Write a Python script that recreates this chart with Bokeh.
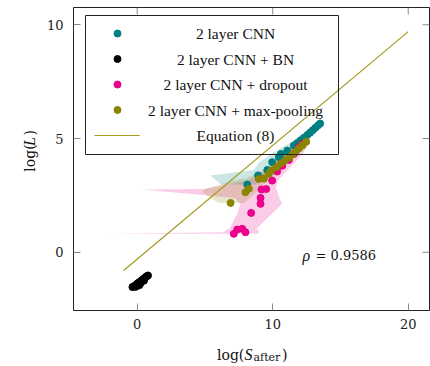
import numpy as np
from math import pi
from bokeh.plotting import figure
from bokeh.layouts import row, column
from bokeh.models import Range1d, LinearAxis, FixedTicker, Label, BoxAnnotation
from bokeh.embed import file_html
from bokeh.resources import INLINE

# ---------------- data ----------------
# 2 layer CNN
cnn_x = [8.12, 8.92, 9.60, 9.96, 10.45, 10.60, 11.07, 11.56, 11.80, 12.05, 12.30, 12.55, 12.75, 12.95, 13.15, 13.35, 13.50]
cnn_y = [2.98, 3.38, 3.62, 3.96, 4.18, 4.32, 4.47, 4.69, 4.80, 4.92, 5.03, 5.15, 5.25, 5.36, 5.47, 5.58, 5.66]
cnn_lo = [6.2, 5.4, 8.6, 9.0, 9.6, 9.8, 10.3, 10.9, 11.3, 11.6, 11.9, 12.1, 12.3, 12.5, 12.7, 12.9, 13.1]
cnn_hi = [8.8, 9.4, 10.2, 10.6, 11.0, 11.3, 11.7, 12.1, 12.3, 12.5, 12.7, 12.9, 13.1, 13.3, 13.5, 13.7, 13.8]

# 2 layer CNN + BN
bn_x = [-0.35, -0.25, -0.10, -0.15, -0.05, 0.08, 0.00, 0.15, 0.25, 0.12, 0.20, 0.30, 0.38, 0.50, 0.45, 0.58, 0.65, 0.72, 0.80]
bn_y = [-1.53, -1.50, -1.52, -1.46, -1.44, -1.40, -1.38, -1.45, -1.36, -1.33, -1.30, -1.25, -1.22, -1.25, -1.18, -1.12, -1.08, -1.05, -1.02]
bn_lo = [-0.6, -0.5, -0.4, -0.5, -0.9, -0.3, -0.8, -0.1, 0.0, -0.2, -0.1, 0.0, 0.1, 0.2, 0.2, 0.3, 0.4, 0.5, 0.6]
bn_hi = [-0.1, 0.0, 0.1, 0.1, 0.2, 0.3, 0.3, 0.4, 0.5, 0.4, 0.5, 0.6, 0.6, 0.8, 0.7, 0.8, 0.9, 0.9, 1.0]

# 2 layer CNN + dropout
drop_x = [7.13, 7.99, 7.38, 7.75, 8.41, 9.10, 9.10, 9.17, 9.52, 9.96, 10.33, 10.70, 11.19, 11.56, 11.93, 12.20]
drop_y = [0.81, 0.88, 1.00, 1.03, 1.73, 2.13, 2.39, 2.76, 2.78, 3.15, 3.55, 3.80, 4.06, 4.32, 4.62, 4.76]
drop_lo = [-2.2, 6.4, 6.6, 6.8, 7.4, 7.6, 7.2, 0.4, 5.0, 8.2, 9.3, 9.9, 10.4, 10.9, 11.3, 11.6]
drop_hi = [8.9, 9.0, 8.9, 8.8, 10.0, 10.7, 10.5, 10.3, 10.2, 10.4, 11.0, 11.4, 11.8, 12.2, 12.5, 12.7]

# 2 layer CNN + max-pooling
pool_x = [6.89, 7.99, 8.24, 8.98, 9.35, 9.71, 9.89, 10.28, 10.60, 10.90, 11.20, 11.45, 11.70, 11.95, 12.20, 12.47]
pool_y = [2.17, 2.64, 2.79, 3.22, 3.24, 3.45, 3.59, 3.74, 3.90, 4.03, 4.16, 4.30, 4.43, 4.57, 4.70, 4.86]
pool_lo = [6.0, 4.8, 5.0, 7.6, 8.0, 8.8, 9.2, 9.7, 10.0, 10.3, 10.6, 10.9, 11.1, 11.4, 11.7, 12.0]
pool_hi = [7.9, 8.8, 9.0, 9.8, 10.0, 10.2, 10.4, 10.7, 11.0, 11.3, 11.6, 11.8, 12.1, 12.3, 12.6, 12.8]

# Equation (8)
eq_x = [-1.0, 20.0]
eq_y = [-0.8, 9.7]

rho = 0.9586
x_ticks = [0, 10, 20]
y_ticks = [0, 5, 10]
series_labels = ["2 layer CNN", "2 layer CNN + BN", "2 layer CNN + dropout",
                 "2 layer CNN + max-pooling", "Equation (8)"]

# ---------------- styling ----------------
TEAL = "#008080"
BLACK = "#000000"
MAGENTA = "#ec008c"
OLIVE = "#8a8400"
EQ_COLOR = "#a39b1e"
TICK_GRAY = "#888888"
TEXT = "#111111"
SERIF = "Liberation Serif"
MATH = "DejaVu Serif"

W, H = 430, 366
LEFT_W = 42          # strip holding the vertical axis title
BOTTOM_H = 30        # strip holding the horizontal axis title
MAIN_W, MAIN_H = W - LEFT_W, H - BOTTOM_H
ROW_GAP = 5          # inline gap the browser leaves under the top row

# frame edges in page pixels
FL, FR, FT, FB = 73, 429, 7, 310
X0, X1 = -4.70, 21.57
Y0, Y1 = -2.56, 10.76
TICK_LEN = 7


def dx(px):
    return X0 + (px - FL) / (FR - FL) * (X1 - X0)


def dy(py):
    return Y0 + (FB - py) / (FB - FT) * (Y1 - Y0)


p = figure(width=MAIN_W, height=MAIN_H, x_range=Range1d(X0, X1), y_range=Range1d(Y0, Y1),
           output_backend="svg", toolbar_location=None, title=None,
           min_border_left=FL - LEFT_W, min_border_right=W - FR, min_border_top=FT,
           min_border_bottom=MAIN_H - FB, x_axis_location=None, y_axis_location=None)
p.xgrid.visible = False
p.ygrid.visible = False
p.outline_line_color = "#222222"
p.outline_line_width = 1
p.background_fill_color = "white"
p.border_fill_color = "white"


def make_axis(ticks, standoff):
    ax = LinearAxis(ticker=FixedTicker(ticks=ticks))
    ax.axis_line_color = None
    ax.major_tick_in = TICK_LEN
    ax.major_tick_out = 0
    ax.major_tick_line_color = TICK_GRAY
    ax.minor_tick_line_color = None
    ax.major_label_standoff = standoff
    ax.major_label_text_font = MATH
    ax.major_label_text_font_size = "13px"
    ax.major_label_text_color = "#222222"
    return ax


p.add_layout(make_axis(x_ticks, 8), "below")
p.add_layout(make_axis(y_ticks, 10), "left")

# inward ticks mirrored on the top and right frame edges
tx = TICK_LEN / (FR - FL) * (X1 - X0)
ty = TICK_LEN / (FB - FT) * (Y1 - Y0)
p.segment(x0=x_ticks, y0=[Y1] * len(x_ticks), x1=x_ticks, y1=[Y1 - ty] * len(x_ticks),
          line_color=TICK_GRAY, line_width=1)
p.segment(x0=[X1] * len(y_ticks), y0=y_ticks, x1=[X1 - tx] * len(y_ticks), y1=y_ticks,
          line_color=TICK_GRAY, line_width=1)


def band(ys, lo, hi, color, alpha):
    order = np.argsort(ys, kind="stable")
    p.harea(x1=np.asarray(lo)[order], x2=np.asarray(hi)[order], y=np.asarray(ys)[order],
            fill_color=color, fill_alpha=alpha)


# shaded spread of each series
band(cnn_y, cnn_lo, cnn_hi, TEAL, 0.2)
band(bn_y, bn_lo, bn_hi, BLACK, 0.12)
band(drop_y, drop_lo, drop_hi, MAGENTA, 0.2)
band(pool_y, pool_lo, pool_hi, OLIVE, 0.2)

# scatter points
for xs, ys, c in [(cnn_x, cnn_y, TEAL), (bn_x, bn_y, BLACK),
                  (drop_x, drop_y, MAGENTA), (pool_x, pool_y, OLIVE)]:
    p.scatter(xs, ys, size=7, fill_color=c, line_color=c)

# Equation (8)
p.line(eq_x, eq_y, line_color=EQ_COLOR, line_width=1.2)

# ---------------- legend ----------------
p.add_layout(BoxAnnotation(left=dx(85), right=dx(338), top=dy(15), bottom=dy(154),
                           fill_color=None, fill_alpha=0, line_color="#222222",
                           line_width=1, line_alpha=1))
rows = [33, 58.5, 84, 109.5, 135]
marker_colors = [TEAL, BLACK, MAGENTA, OLIVE]
p.scatter([dx(117)] * 4, [dy(r) for r in rows[:4]], size=7,
          fill_color=marker_colors, line_color=marker_colors)
p.line([dx(94), dx(139)], [dy(rows[4])] * 2, line_color=EQ_COLOR, line_width=1.2)
for r, t in zip(rows, series_labels):
    p.add_layout(Label(x=dx(235), y=dy(r), text=t, text_align="center",
                       text_baseline="middle", text_font=SERIF,
                       text_font_size="15.5px", text_color=TEXT))

# correlation annotation
p.add_layout(Label(x=dx(302), y=dy(254.5), text="ρ", text_font=SERIF,
                   text_font_style="italic", text_font_size="16px",
                   text_baseline="alphabetic", text_color=TEXT))
p.add_layout(Label(x=dx(315), y=dy(254.5), text=f"= {rho}", text_font=MATH,
                   text_font_size="13px", text_baseline="alphabetic",
                   text_color=TEXT))


# ---------------- axis titles ----------------
def strip(w, h):
    f = figure(width=w, height=h, x_range=Range1d(0, w), y_range=Range1d(0, h),
               output_backend="svg", toolbar_location=None, title=None,
               min_border=0, min_border_left=0, min_border_right=0,
               min_border_top=0, min_border_bottom=0,
               x_axis_location=None, y_axis_location=None)
    f.xgrid.visible = False
    f.ygrid.visible = False
    f.outline_line_color = None
    f.background_fill_color = "white"
    f.border_fill_color = "white"
    return f


def part(f, x, y, t, size, italic=False, font=MATH, angle=0.0):
    f.add_layout(Label(x=x, y=y, text=t, text_font=font, text_font_size=size,
                       text_font_style="italic" if italic else "normal",
                       text_baseline="alphabetic", text_align="left",
                       angle=angle, text_color=TEXT))


# log(S_after) in a full-width strip under the plot (page x == strip x)
xt = strip(W, BOTTOM_H)
base = H - 359 + ROW_GAP
part(xt, 216.5, base, "log(", "14px")
part(xt, 244, base, "S", "16px", italic=True, font=SERIF)
part(xt, 253, base - 3, "after", "11px")
part(xt, 281.5, base, ")", "14px")

# log(L) on the left, reading upwards; strip spans page y 0..MAIN_H
yt = strip(LEFT_W, MAIN_H)
part(yt, 29, MAIN_H - 182, "log(", "14px", angle=pi / 2)
part(yt, 29, MAIN_H - 153.5, "L", "16px", italic=True, font=SERIF, angle=pi / 2)
part(yt, 29, MAIN_H - 142, ")", "14px", angle=pi / 2)

layout = column(row(yt, p, spacing=0), xt, spacing=0)
open("out.html", "w").write(file_html(layout, INLINE))
